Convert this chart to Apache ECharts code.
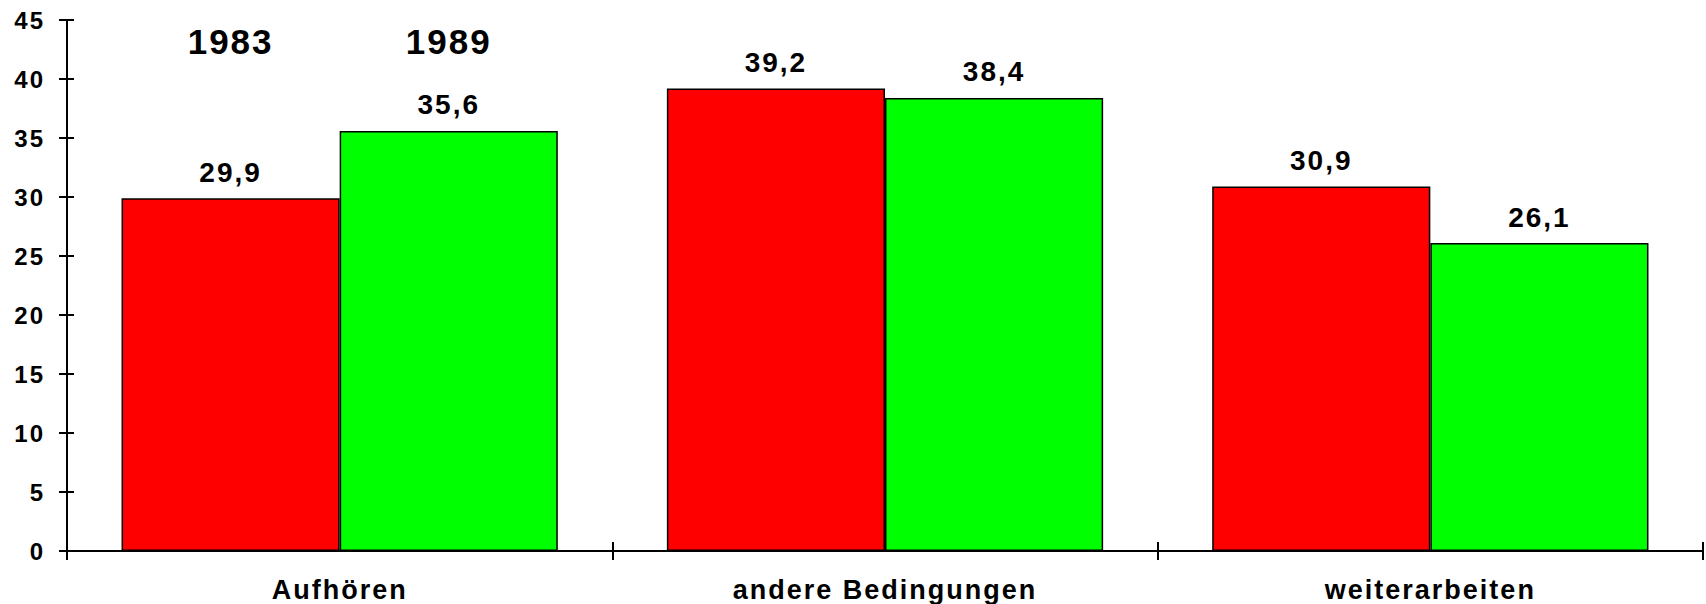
<!DOCTYPE html>
<html>
<head>
<meta charset="utf-8">
<script src="https://cdn.jsdelivr.net/npm/echarts@6/dist/echarts.min.js"></script>
<style>
html,body{margin:0;padding:0;background:#fff;}
#chart{width:1706px;height:604px;}
#chart svg text{letter-spacing:2px;}
</style>
</head>
<body>
<div id="chart"></div>
<script>
const categories = ['Aufhören', 'andere Bedingungen', 'weiterarbeiten'];
const seriesNames = ['1983', '1989'];
const values1983 = [29.9, 39.2, 30.9];
const values1989 = [35.6, 38.4, 26.1];
const yTicks = [0, 5, 10, 15, 20, 25, 30, 35, 40, 45];
const yearLabelPos = 43.2; // value height of the year captions

const FONT = '"Liberation Sans", Arial, sans-serif';
const chart = echarts.init(document.getElementById('chart'), null, {renderer: 'svg'});

function fmt(v) { return String(v.toFixed(1)).replace('.', ','); }

function makeSeries(name, data, color) {
  return {
    name: name,
    type: 'bar',
    data: data,
    barGap: '0%',
    barCategoryGap: '20%',
    itemStyle: {color: color, borderColor: '#000', borderWidth: 1.5},
    label: {
      show: true, position: 'top', distance: 12,
      formatter: p => fmt(p.value),
      fontFamily: FONT, fontWeight: 'bold', fontSize: 28, color: '#000'
    },
    markPoint: {
      symbol: 'circle', symbolSize: 1,
      itemStyle: {color: 'rgba(0,0,0,0)'},
      label: {
        show: true, position: 'inside', formatter: name,
        fontFamily: FONT, fontWeight: 'bold', fontSize: 35, color: '#000'
      },
      data: [{coord: [categories[0], yearLabelPos]}]
    },
    emphasis: {disabled: true}
  };
}

const yMin = yTicks[0], yMax = yTicks[yTicks.length - 1], yStep = yTicks[1] - yTicks[0];

chart.setOption({
  animation: false,
  backgroundColor: '#fff',
  grid: {left: 67, right: 3, top: 20, bottom: 53, containLabel: false},
  xAxis: [{
    type: 'category', data: categories, position: 'bottom',
    axisLine: {lineStyle: {color: '#000', width: 2}},
    axisTick: {show: true, inside: false, length: 9, lineStyle: {color: '#000', width: 2}},
    axisLabel: {margin: 25, fontFamily: FONT, fontWeight: 'bold', fontSize: 27, color: '#000'},
    splitLine: {show: false}
  }, {
    type: 'category', data: categories, position: 'bottom',
    axisLine: {show: false},
    axisTick: {show: true, inside: true, length: 9, lineStyle: {color: '#000', width: 2}},
    axisLabel: {show: false}, splitLine: {show: false}
  }],
  yAxis: [{
    type: 'value', min: yMin, max: yMax, interval: yStep, position: 'left',
    axisLine: {show: true, lineStyle: {color: '#000', width: 2}},
    axisTick: {show: true, inside: false, length: 8, lineStyle: {color: '#000', width: 2}},
    axisLabel: {margin: 22, fontFamily: FONT, fontWeight: 'bold', fontSize: 24, color: '#000'},
    splitLine: {show: false}
  }, {
    type: 'value', min: yMin, max: yMax, interval: yStep, position: 'left', offset: 0,
    axisLine: {show: false},
    axisTick: {show: true, inside: true, length: 7, lineStyle: {color: '#000', width: 2}},
    axisLabel: {show: false}, splitLine: {show: false}
  }],
  series: [
    makeSeries(seriesNames[0], values1983, '#ff0000'),
    makeSeries(seriesNames[1], values1989, '#00ff00')
  ]
});
</script>
</body>
</html>
